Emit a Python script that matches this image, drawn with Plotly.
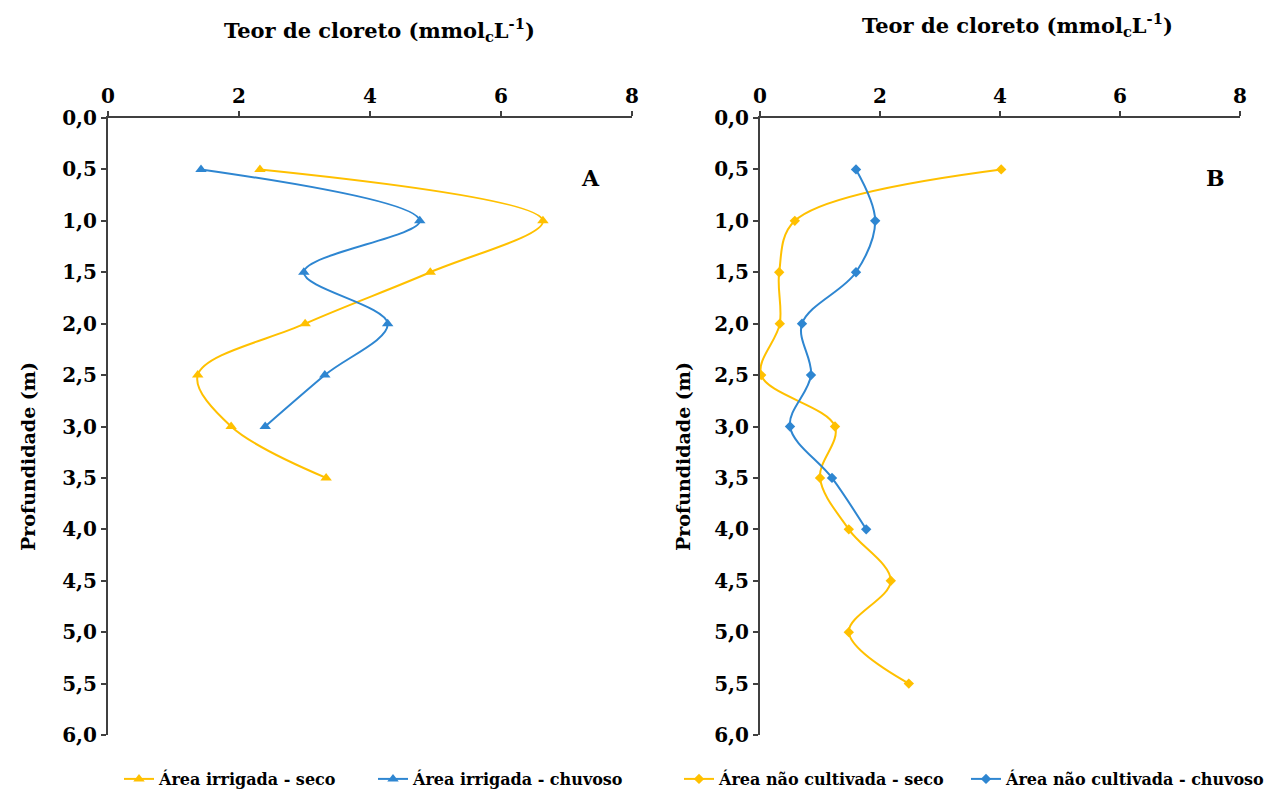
import plotly.graph_objects as go

# ---- data ----
depth_a_seco = [0.5, 1.0, 1.5, 2.0, 2.5, 3.0, 3.5]
cl_a_seco = [2.32, 6.64, 4.92, 3.01, 1.37, 1.88, 3.33]
depth_a_chuv = [0.5, 1.0, 1.5, 2.0, 2.5, 3.0]
cl_a_chuv = [1.42, 4.76, 2.99, 4.27, 3.31, 2.40]

depth_b_seco = [0.5, 1.0, 1.5, 2.0, 2.5, 3.0, 3.5, 4.0, 4.5, 5.0, 5.5]
cl_b_seco = [4.02, 0.58, 0.32, 0.33, 0.02, 1.25, 1.00, 1.48, 2.18, 1.48, 2.48]
depth_b_chuv = [0.5, 1.0, 1.5, 2.0, 2.5, 3.0, 3.5, 4.0]
cl_b_chuv = [1.60, 1.92, 1.60, 0.70, 0.85, 0.50, 1.20, 1.77]

y_ticks = [0, 0.5, 1, 1.5, 2, 2.5, 3, 3.5, 4, 4.5, 5, 5.5, 6]
y_ticklabels = ["0,0", "0,5", "1,0", "1,5", "2,0", "2,5", "3,0", "3,5",
                "4,0", "4,5", "5,0", "5,5", "6,0"]
x_ticks = [0, 2, 4, 6, 8]

names = ["Área irrigada - seco", "Área irrigada - chuvoso",
         "Área não cultivada - seco", "Área não cultivada - chuvoso"]

YELLOW = "#FFC000"
BLUE = "#2E86D1"
FONT = "DejaVu Serif"

fig = go.Figure()

def add(x, y, name, color, symbol, xa, ya, legend):
    fig.add_trace(go.Scatter(
        x=x, y=y, name=name, mode="lines+markers",
        line=dict(color=color, width=2, shape="spline", smoothing=1.0),
        marker=dict(color=color, symbol=symbol, size=10 if symbol.startswith("tri") else 8),
        xaxis=xa, yaxis=ya, legend=legend))

add(cl_a_seco, depth_a_seco, names[0], YELLOW, "triangle-up", "x", "y", "legend")
add(cl_a_chuv, depth_a_chuv, names[1], BLUE, "triangle-up", "x", "y", "legend2")
add(cl_b_seco, depth_b_seco, names[2], YELLOW, "diamond", "x2", "y2", "legend3")
add(cl_b_chuv, depth_b_chuv, names[3], BLUE, "diamond", "x2", "y2", "legend4")

W, H = 1279, 793
ydom = [1 - 735 / H, 1 - 118 / H]
axis_font = dict(family=FONT, size=20, color="black", weight="bold")

xcommon = dict(range=[0, 8], tickvals=x_ticks, side="top", showgrid=False,
               zeroline=False, showline=True, linecolor="#404040", linewidth=2,
               ticks="outside", ticklen=5, tickcolor="#404040", tickwidth=2,
               tickfont=axis_font, fixedrange=True, automargin=False)
ycommon = dict(range=[6, 0], tickvals=y_ticks, ticktext=y_ticklabels, showgrid=False,
               zeroline=False, showline=True, linecolor="#404040", linewidth=2,
               ticks="outside", ticklen=5, tickcolor="#404040", tickwidth=2,
               tickfont=axis_font, domain=ydom, fixedrange=True, automargin=False)

legend_font = dict(family=FONT, size=16, color="black", weight="bold")

def leg(xpx):
    return dict(orientation="h", x=xpx / W, y=1 - 779 / H, xanchor="left", yanchor="middle",
                font=legend_font, itemwidth=30, bgcolor="rgba(0,0,0,0)")

fig.update_layout(
    width=W, height=H,
    margin=dict(l=0, r=0, t=0, b=0, autoexpand=False),
    paper_bgcolor="white", plot_bgcolor="white",
    font=dict(family=FONT, color="black"),
    xaxis=dict(xcommon, domain=[108 / W, 632 / W], anchor="y"),
    yaxis=dict(ycommon, anchor="x"),
    xaxis2=dict(xcommon, domain=[760 / W, 1240 / W], anchor="y2"),
    yaxis2=dict(ycommon, anchor="x2"),
    legend=leg(119), legend2=leg(373), legend3=leg(679), legend4=leg(966),
    showlegend=True,
)

title = "<b>Teor de cloreto (mmol<sub>c</sub>L<sup>-1</sup>)</b>"
ytitle = "<b>Profundidade (m)</b>"
ann = [
    dict(text=title, x=379 / W, y=1 - 30 / H, font=dict(family=FONT, size=21, color="black")),
    dict(text=title, x=1017 / W, y=1 - 25 / H, font=dict(family=FONT, size=21, color="black")),
    dict(text=ytitle, x=28 / W, y=1 - 457 / H, textangle=-90),
    dict(text=ytitle, x=683 / W, y=1 - 457 / H, textangle=-90),
    dict(text="<b>A</b>", x=590 / W, y=1 - 178 / H, font=dict(family=FONT, size=22, color="black")),
    dict(text="<b>B</b>", x=1215 / W, y=1 - 178 / H, font=dict(family=FONT, size=22, color="black")),
]
for a in ann:
    a.setdefault("font", dict(family=FONT, size=19, color="black"))
    fig.add_annotation(xref="paper", yref="paper", showarrow=False,
                       xanchor="center", yanchor="middle", **a)

fig.write_html("out.html", config={"displayModeBar": False},
               post_script="document.body.style.margin='0';document.body.style.overflow='hidden';")
